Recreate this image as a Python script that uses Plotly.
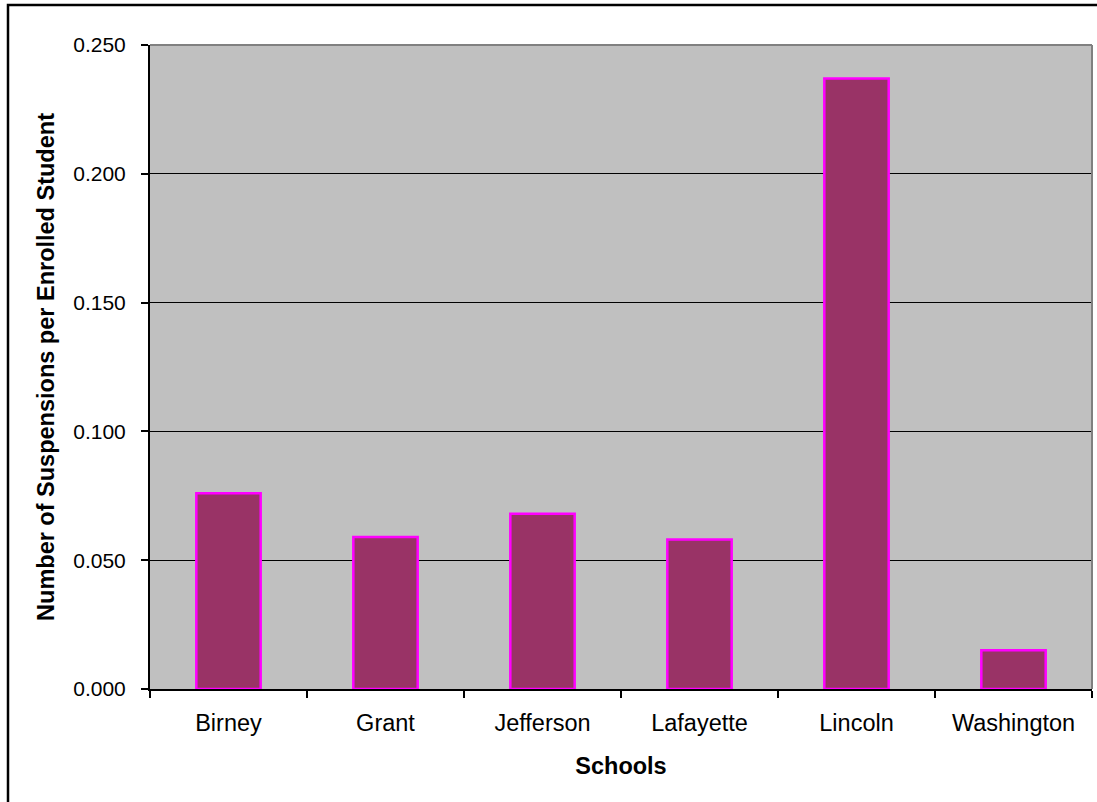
import plotly.graph_objects as go

schools = ["Birney", "Grant", "Jefferson", "Lafayette", "Lincoln", "Washington"]
suspensions_per_student = [0.076, 0.059, 0.068, 0.058, 0.237, 0.015]
y_ticks = [0.0, 0.05, 0.10, 0.15, 0.20, 0.25]
y_tick_labels = ["0.000", "0.050", "0.100", "0.150", "0.200", "0.250"]

W, H = 1097, 802
L, R, T, B = 150, 5, 45, 113
pw, ph = W - L - R, H - T - B

fig = go.Figure(go.Bar(
    x=schools, y=suspensions_per_student,
    marker=dict(color="#993366", line=dict(color="#FF00FF", width=2.5)),
    width=0.41,
))

font = dict(family="Liberation Sans, Arial, sans-serif", color="#000000")
FS_Y = 21
FS = 23.5

fig.update_layout(
    width=W, height=H,
    margin=dict(l=L, r=R, t=T, b=B, pad=0),
    paper_bgcolor="white", plot_bgcolor="#C0C0C0",
    font=dict(**font, size=FS),
    showlegend=False,
    bargap=0.59,
    xaxis=dict(
        title=dict(text="<b>Schools</b>", font=dict(size=FS), standoff=22),
        showline=True, linecolor="black", linewidth=2,
        ticks="outside", ticklen=7, tickwidth=1.5, tickcolor="black",
        tickson="boundaries", showgrid=False,
        tickfont=dict(size=FS), range=[-0.5, 5.5],
        ticklabelstandoff=12,
    ),
    yaxis=dict(
        title=dict(text="<b>Number of Suspensions per Enrolled Student</b>", font=dict(size=FS), standoff=12),
        range=[0, 0.25], tickvals=y_ticks, ticktext=y_tick_labels,
        showline=True, linecolor="black", linewidth=2,
        ticks="outside", ticklen=7, tickwidth=1.5, tickcolor="black",
        showgrid=True, gridcolor="black", gridwidth=1.2,
        tickfont=dict(size=FS_Y), zeroline=False,
        ticklabelstandoff=11,
    ),
    shapes=[
        dict(type="line", xref="paper", yref="paper", x0=0, x1=1, y0=1, y1=1,
             line=dict(color="#808080", width=2)),
        dict(type="line", xref="paper", yref="paper", x0=1, x1=1, y0=0, y1=1,
             line=dict(color="#808080", width=2)),
        dict(type="rect", xref="paper", yref="paper",
             x0=(8 - L) / pw, x1=(W + 10 - L) / pw,
             y0=(T + ph - (H + 10)) / ph, y1=(T + ph - 5) / ph,
             line=dict(color="black", width=2.5), fillcolor="rgba(0,0,0,0)", layer="above"),
    ],
)

fig.write_html(
    "out.html",
    config={"displayModeBar": False},
    post_script="document.body.style.margin='0';document.body.style.overflow='hidden';",
)
